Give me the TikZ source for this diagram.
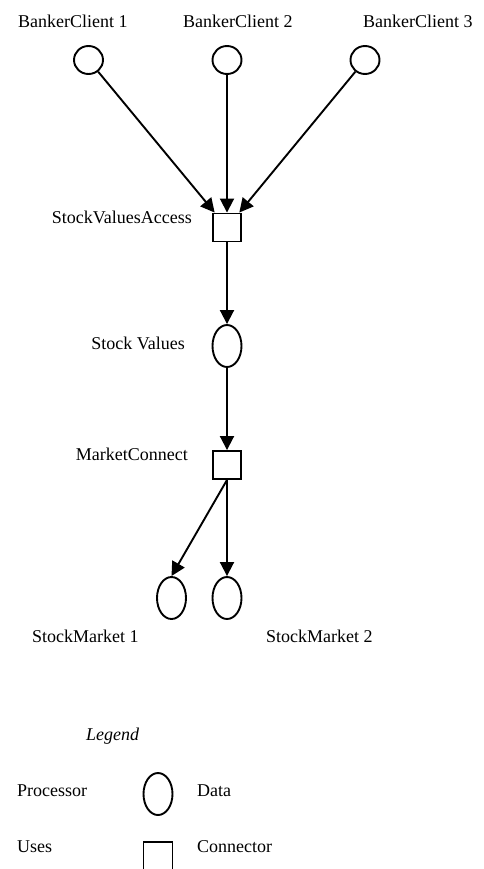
\documentclass[tikz,border=0pt]{standalone}
\usepackage{fontspec}
\setmainfont{Liberation Serif}
\usetikzlibrary{shapes.geometric,arrows.meta}
\begin{document}
\begin{tikzpicture}[x=1pt,y=-1pt,
  lbl/.style={font=\fontsize{18}{21}\selectfont, inner sep=0pt},
  circ/.style={draw, ellipse, line width=1.9pt, minimum width=29pt, minimum height=28pt, inner sep=0pt},
  dat/.style={draw, ellipse, line width=1.9pt, minimum width=29pt, minimum height=42pt, inner sep=0pt},
  conn/.style={draw, rectangle, line width=1.9pt, minimum width=28pt, minimum height=28pt, inner sep=0pt},
  arr/.style={line width=1.9pt, -{Triangle[length=14pt,width=14pt]}}]
\useasboundingbox (0,0) rectangle (483,869);
\clip (0,0) rectangle (483,869);
% labels
\node[lbl, anchor=base west] (t1) at (18,28) {BankerClient 1};
\node[lbl, anchor=base west] (t2) at (183,28) {BankerClient 2};
\node[lbl, anchor=base west] (t3) at (363,28) {BankerClient 3};
\node[lbl, anchor=base east] (tsva) at (192,223) {StockValuesAccess};
\node[lbl, anchor=base east] (tsv) at (185,349) {Stock Values};
\node[lbl, anchor=base east] (tmc) at (188,460) {MarketConnect};
\node[lbl, anchor=base west] (tsm1) at (32,642) {StockMarket 1};
\node[lbl, anchor=base west] (tsm2) at (266,642) {StockMarket 2};
% shapes
\node[circ] (c1) at (88.5,60) {};
\node[circ] (c2) at (227,60) {};
\node[circ] (c3) at (365,60) {};
\node[conn] (sva) at (227,227.5) {};
\node[dat] (sv) at (227,346) {};
\node[conn] (mc) at (227,465) {};
\node[dat] (sm1) at (171.5,598) {};
\node[dat] (sm2) at (227,598) {};
% connectors
\draw[arr] (c1) -- (sva);
\draw[arr] (c2) -- (sva);
\draw[arr] (c3) -- (sva);
\draw[arr] (sva) -- (sv);
\draw[arr] (sv) -- (mc);
\draw[arr] (mc.south) -- (sm1.north);
\draw[arr] (mc) -- (sm2);
% legend
\node[lbl, anchor=base west, font=\fontsize{18}{21}\selectfont\itshape] (leg) at (86,740) {Legend};
\node[lbl, anchor=base west] (lp) at (17,796) {Processor};
\node[dat] (ld) at (158,794) {};
\node[lbl, anchor=base west] (ldt) at (197,796) {Data};
\node[lbl, anchor=base west] (lu) at (17,852) {Uses};
\node[conn, minimum width=29pt, minimum height=29pt] (lc) at (158,856.5) {};
\node[lbl, anchor=base west] (lct) at (197,852) {Connector};
\end{tikzpicture}
\end{document}
